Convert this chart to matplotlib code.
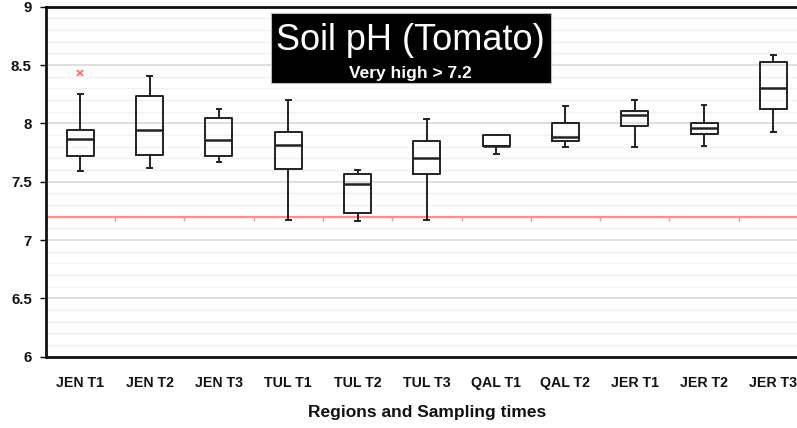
import matplotlib
matplotlib.use("Agg")
import matplotlib.pyplot as plt
from matplotlib.patches import Rectangle
import numpy as np

plt.rcParams['font.family'] = ['Liberation Sans', 'DejaVu Sans']

# data
labels = ["JEN T1", "JEN T2", "JEN T3", "TUL T1", "TUL T2", "TUL T3",
          "QAL T1", "QAL T2", "JER T1", "JER T2", "JER T3"]
whis_low = [7.59, 7.62, 7.67, 7.17, 7.16, 7.17, 7.735, 7.795, 7.80, 7.81, 7.93]
q1 = [7.72, 7.73, 7.72, 7.61, 7.235, 7.57, 7.81, 7.85, 7.98, 7.91, 8.12]
medians = [7.865, 7.94, 7.86, 7.815, 7.48, 7.70, 7.81, 7.885, 8.07, 7.96, 8.30]
q3 = [7.94, 8.235, 8.05, 7.925, 7.57, 7.85, 7.90, 8.00, 8.11, 8.005, 8.53]
whis_high = [8.25, 8.405, 8.12, 8.20, 7.60, 8.04, 7.90, 8.15, 8.20, 8.16, 8.59]
outliers = [[8.43], [], [], [], [], [], [], [], [], [], []]
limit = 7.2

W, H = 797, 428
fig = plt.figure(figsize=(W / 100, H / 100), dpi=100)
fig.patch.set_facecolor('white')

# axes run past the right edge of the picture (reference is cropped)
left, right, top, bottom = 45.7, 808.0, 6.7, 356.7
ax = fig.add_axes([left / W, 1 - bottom / H, (right - left) / W, (bottom - top) / H])

stats = []
for i in range(len(labels)):
    stats.append(dict(med=medians[i], q1=q1[i], q3=q3[i],
                      whislo=whis_low[i], whishi=whis_high[i], fliers=outliers[i]))

pos = np.arange(1, len(labels) + 1)
ax.bxp(stats, positions=pos, widths=0.39, capwidths=0.07, showfliers=True,
       boxprops=dict(color='#222222', linewidth=1.4),
       whiskerprops=dict(color='#222222', linewidth=1.4),
       capprops=dict(color='#222222', linewidth=1.4),
       medianprops=dict(color='#222222', linewidth=1.8),
       flierprops=dict(marker='x', markeredgecolor='#ff6060', markersize=4,
                       markeredgewidth=1.2, linestyle='none'))

# red threshold line with category separators
ax.axhline(limit, color='#ff9090', linewidth=1.6, zorder=1)
ax.vlines(pos[:-1] + 0.5, limit - 0.04, limit, color='#ff9090', linewidth=1.0, zorder=1)

ax.set_xlim(0.5, len(labels) + 0.5)
ax.set_ylim(6, 9)
ax.set_yticks(np.arange(6, 9.01, 0.5))
ax.set_yticklabels(["6", "6.5", "7", "7.5", "8", "8.5", "9"])
ax.set_yticks(np.arange(6, 9.01, 0.1), minor=True)
ax.set_xticks(pos)
ax.set_xticklabels(labels)

ax.grid(axis='y', which='major', color='#d9d9d9', linewidth=1.2, zorder=0)
ax.grid(axis='y', which='minor', color='#f1f1f1', linewidth=1.0, zorder=0)
ax.set_axisbelow(True)

ax.tick_params(axis='x', length=0, pad=14)
ax.tick_params(axis='y', which='major', length=4, width=1, direction='out', pad=6)
ax.tick_params(axis='y', which='minor', length=0)
for t in ax.get_xticklabels():
    t.set_fontsize(10.2)
for t in ax.get_yticklabels():
    t.set_fontsize(10.8)
for t in ax.get_xticklabels() + ax.get_yticklabels():
    t.set_fontweight('bold')
    t.set_color('#111111')

for s in ['left', 'bottom', 'top']:
    ax.spines[s].set_linewidth(2)
    ax.spines[s].set_color('#111111')
ax.spines['right'].set_visible(False)

ax.set_xlabel("Regions and Sampling times", fontsize=12.5, fontweight='bold',
              color='#111111', labelpad=11)

# black title box
fig.patches.append(Rectangle((270.7 / W, 1 - 82.7 / H), (551 - 270.7) / W, (82.7 - 12.7) / H,
                             transform=fig.transFigure, facecolor='black',
                             edgecolor='#bbbbbb', linewidth=0.8, zorder=5))
fig.text(410.5 / W, 1 - 50 / H, "Soil pH (Tomato)", color='white', fontsize=26,
         ha='center', va='baseline', zorder=6)
fig.text(410.5 / W, 1 - 78 / H, "Very high > 7.2", color='white', fontsize=12.5,
         fontweight='bold', ha='center', va='baseline', zorder=6)

fig.savefig("out.png", dpi=100)
